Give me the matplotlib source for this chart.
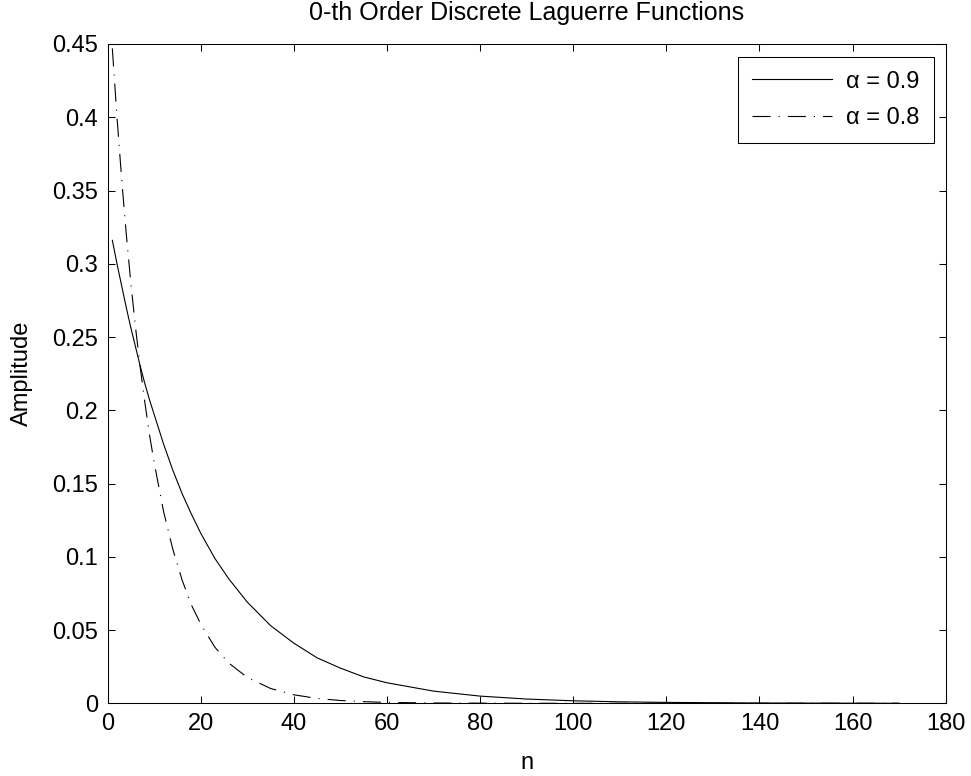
import matplotlib
matplotlib.use("Agg")
import matplotlib.pyplot as plt

# values
n = [1, 2, 3, 4, 5, 6, 7, 8, 9, 10, 12, 14, 16, 18, 20, 23, 26, 30, 35, 40,
     45, 50, 55, 60, 70, 80, 90, 100, 110, 120, 140, 170]
amp_09 = [0.316, 0.300, 0.285, 0.270, 0.256, 0.243, 0.230, 0.218, 0.207, 0.197,
          0.177, 0.159, 0.143, 0.129, 0.116, 0.099, 0.085, 0.069, 0.053, 0.041,
          0.031, 0.024, 0.018, 0.014, 0.0083, 0.0049, 0.0029, 0.0017, 0.0010,
          0.0006, 0.0002, 0.0]
amp_08 = [0.447, 0.400, 0.358, 0.320, 0.286, 0.256, 0.229, 0.205, 0.183, 0.164,
          0.131, 0.105, 0.084, 0.067, 0.054, 0.0384, 0.0275, 0.0176, 0.0101, 0.0058,
          0.0033, 0.0019, 0.0011, 0.0006, 0.0002, 0.0001, 0.0, 0.0, 0.0,
          0.0, 0.0, 0.0]
labels = ["α = 0.9", "α = 0.8"]
x_ticks = [0, 20, 40, 60, 80, 100, 120, 140, 160, 180]
y_ticks = [0, 0.05, 0.1, 0.15, 0.2, 0.25, 0.3, 0.35, 0.4, 0.45]

plt.rcParams['font.family'] = ['Liberation Sans', 'DejaVu Sans']
plt.rcParams['lines.scale_dashes'] = False
fs = 17

fig = plt.figure(figsize=(9.71, 7.76), dpi=100)
ax = fig.add_axes([0.1109, 0.0937, 0.8630, 0.8496])

ax.plot(n, amp_09, color='black', linewidth=0.8, linestyle='-', label=labels[0])
ax.plot(n, amp_08, color='black', linewidth=0.8,
        linestyle=(0, (13, 5.8, 0.8, 5.8)), label=labels[1])

ax.set_xlim(0, 180)
ax.set_ylim(0, 0.45)
ax.set_xticks(x_ticks)
ax.set_yticks(y_ticks)
ax.set_xticklabels([str(t) for t in x_ticks])
ax.set_yticklabels(['0', '0.05', '0.1', '0.15', '0.2', '0.25', '0.3', '0.35', '0.4', '0.45'])
ax.tick_params(direction='in', length=5, width=0.75, top=True, right=True,
               labelsize=fs, pad=7)
for sp in ax.spines.values():
    sp.set_linewidth(0.75)

ax.set_title('0-th Order Discrete Laguerre Functions', fontsize=18, pad=17)
ax.set_xlabel('n', fontsize=fs, labelpad=12)
ax.set_ylabel('Amplitude', fontsize=fs, labelpad=14)

leg = ax.legend(loc='upper right', bbox_to_anchor=(0.986, 0.981), borderaxespad=0,
                fontsize=fs, fancybox=False, frameon=True, edgecolor='black',
                handlelength=3.4, handletextpad=0.6, borderpad=0.6,
                labelspacing=0.6, markerfirst=True)
leg.get_frame().set_linewidth(0.75)
leg.get_frame().set_alpha(1)

fig.savefig('out.png', dpi=100)
